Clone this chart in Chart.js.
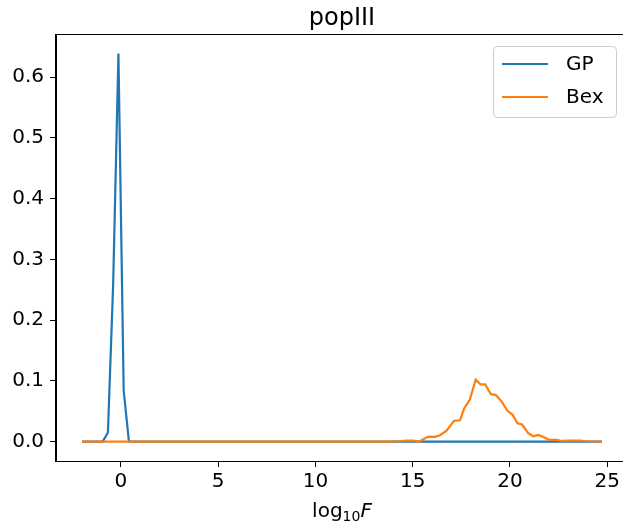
<!DOCTYPE html>
<html>
<head>
<meta charset="utf-8">
<script src="https://cdn.jsdelivr.net/npm/chart.js@4.4.1/dist/chart.umd.min.js"></script>
<style>
  html, body { margin: 0; padding: 0; background: #fff; overflow: hidden; }
  #plot { display: block; }
</style>
</head>
<body>
<canvas id="plot" width="632" height="527"></canvas>
<script>
// curve values (log10 F on x)
const gpX = [-2.0, -0.94, -0.67, -0.40, -0.13, 0.14, 0.41, 24.73];
const gpY = [0, 0, 0.015, 0.26, 0.639, 0.084, 0, 0];
const bexX = [-2.0, 13.9, 14.2, 14.69, 15.03, 15.34, 15.80, 16.14, 16.40, 16.74, 17.12, 17.43,
    17.64, 17.94, 18.24, 18.49, 18.73, 19.02, 19.26, 19.57, 19.86, 20.14, 20.39, 20.62, 20.94,
    21.20, 21.46, 21.75, 22.02, 22.40, 22.66, 23.08, 23.60, 23.94, 24.73];
const bexY = [0, 0, 0.0005, 0.0016, 0.0016, 0, 0.0082, 0.0077, 0.0104, 0.018, 0.034, 0.035,
    0.054, 0.069, 0.102, 0.094, 0.094, 0.078, 0.077, 0.066, 0.051, 0.044, 0.030, 0.028, 0.014,
    0.0088, 0.011, 0.0071, 0.0027, 0.0027, 0.001, 0.0016, 0.0016, 0.0005, 0];
const xTicks = [0, 5, 10, 15, 20, 25];
const yTicks = [0, 0.1, 0.2, 0.3, 0.4, 0.5, 0.6];
const seriesNames = ['GP', 'Bex'];
const seriesColors = ['#1f77b4', '#ff7f0e'];

const FONT = "'DejaVu Sans', sans-serif";

function toPoints(xs, ys) {
    let pts = [];
    for (let i = 0; i < xs.length; i++) pts.push({ x: xs[i], y: ys[i] });
    return pts;
}

// frame, title, x label and legend drawn on top of the chart
const decorations = {
    id: 'decorations',
    afterDraw(chart) {
        const ctx = chart.ctx;
        const a = chart.chartArea;
        ctx.save();
        // box around the axes
        ctx.strokeStyle = '#000';
        ctx.lineWidth = 1;
        ctx.strokeRect(Math.round(a.left) - 0.5, Math.round(a.top) + 0.5,
            Math.round(a.right - a.left) + 1, Math.round(a.bottom - a.top));
        const cx = (a.left + a.right) / 2;
        // title
        ctx.fillStyle = '#000';
        ctx.font = '24px ' + FONT;
        ctx.textAlign = 'center';
        ctx.textBaseline = 'alphabetic';
        ctx.fillText('popIII', cx, 25);
        // x label: log, subscript 10, italic F
        ctx.font = '20px ' + FONT;
        const w1 = ctx.measureText('log').width;
        ctx.font = '14px ' + FONT;
        const w2 = ctx.measureText('10').width;
        ctx.font = 'italic 20px ' + FONT;
        const w3 = ctx.measureText('F').width;
        let x0 = cx - (w1 + w2 + w3) / 2;
        const base = 517;
        ctx.textAlign = 'left';
        ctx.font = '20px ' + FONT;
        ctx.fillText('log', x0, base);
        ctx.font = '14px ' + FONT;
        ctx.fillText('10', x0 + w1, base + 4);
        ctx.font = 'italic 20px ' + FONT;
        ctx.fillText('F', x0 + w1 + w2, base);
        // legend
        const bx = 493.5, by = 46.5, bw = 123, bh = 71, r = 4;
        ctx.beginPath();
        ctx.moveTo(bx + r, by);
        ctx.arcTo(bx + bw, by, bx + bw, by + bh, r);
        ctx.arcTo(bx + bw, by + bh, bx, by + bh, r);
        ctx.arcTo(bx, by + bh, bx, by, r);
        ctx.arcTo(bx, by, bx + bw, by, r);
        ctx.closePath();
        ctx.fillStyle = 'rgba(255,255,255,0.8)';
        ctx.fill();
        ctx.strokeStyle = '#cccccc';
        ctx.stroke();
        ctx.font = '20px ' + FONT;
        ctx.textBaseline = 'middle';
        for (let i = 0; i < seriesNames.length; i++) {
            const ly = 64 + i * 33;
            ctx.strokeStyle = seriesColors[i];
            ctx.lineWidth = 2;
            ctx.beginPath();
            ctx.moveTo(502, ly);
            ctx.lineTo(548, ly);
            ctx.stroke();
            ctx.fillStyle = '#000';
            ctx.fillText(seriesNames[i], 566, ly + 1);
        }
        ctx.restore();
    }
};

const ctx = document.getElementById('plot');
const chart = new Chart(ctx, {
    type: 'line',
    data: {
        datasets: [
            {
                label: seriesNames[0],
                data: toPoints(gpX, gpY),
                borderColor: seriesColors[0],
                borderWidth: 2.2,
                pointRadius: 0,
                tension: 0,
                fill: false,
                order: 1
            },
            {
                label: seriesNames[1],
                data: toPoints(bexX, bexY),
                borderColor: seriesColors[1],
                borderWidth: 2.2,
                pointRadius: 0,
                tension: 0,
                fill: false,
                order: 0
            }
        ]
    },
    options: {
        responsive: false,
        animation: false,
        devicePixelRatio: 1,
        layout: { padding: { top: 34, right: 4, left: 0, bottom: 0 } },
        scales: {
            x: {
                type: 'linear',
                min: -3.34,
                max: 26.07,
                afterBuildTicks: (scale) => { scale.ticks = xTicks.map(v => ({ value: v })); },
                afterFit: (scale) => { scale.height = 66; },
                ticks: {
                    color: '#000',
                    font: { family: FONT, size: 20 },
                    padding: 3,
                    maxRotation: 0,
                    callback: (v) => String(v)
                },
                grid: { display: true, drawOnChartArea: false, drawTicks: true, tickLength: 6, color: '#000' },
                border: { display: true, color: '#000', width: 1 }
            },
            y: {
                type: 'linear',
                min: -0.032,
                max: 0.671,
                afterBuildTicks: (scale) => { scale.ticks = yTicks.map(v => ({ value: v })); },
                afterFit: (scale) => { scale.width = 56; },
                ticks: {
                    color: '#000',
                    font: { family: FONT, size: 20 },
                    padding: 6,
                    callback: (v) => Number(v).toFixed(1)
                },
                grid: { display: true, drawOnChartArea: false, drawTicks: true, tickLength: 6, color: '#000' },
                border: { display: true, color: '#000', width: 1 }
            }
        },
        plugins: {
            legend: { display: false },
            title: { display: false },
            tooltip: { enabled: false }
        }
    },
    plugins: [decorations]
});
</script>
</body>
</html>
